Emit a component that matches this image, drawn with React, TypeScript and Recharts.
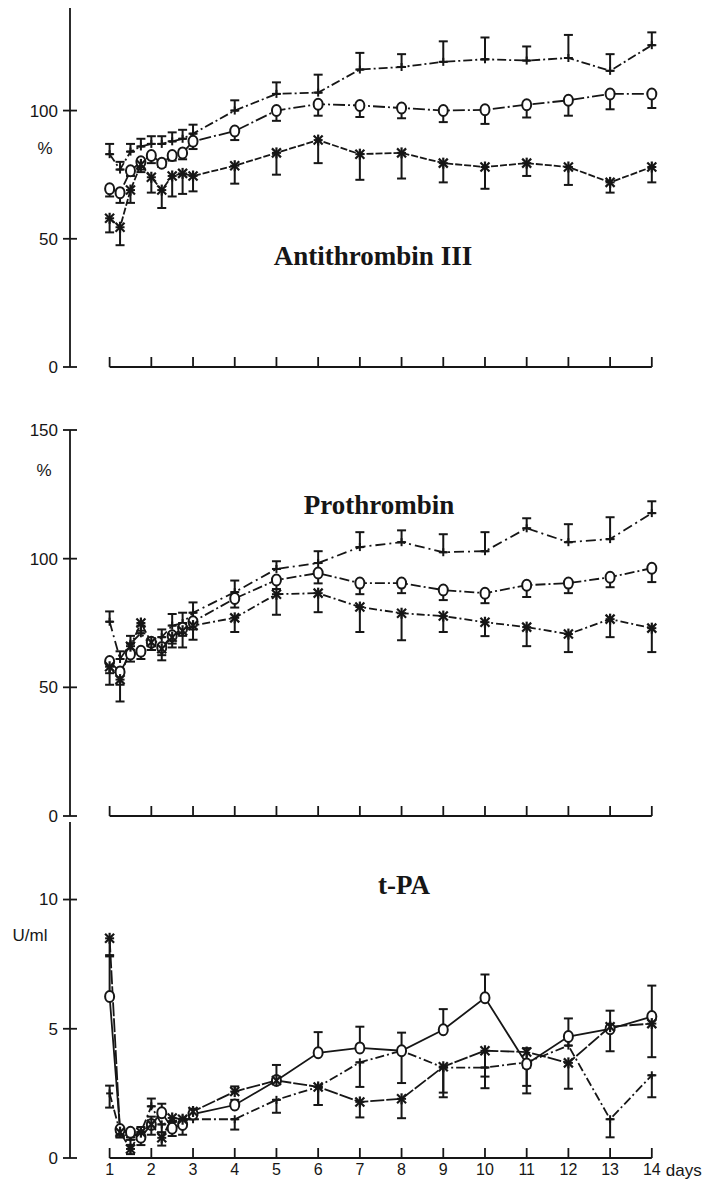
import { ComposedChart, Line, XAxis, YAxis, ErrorBar, ReferenceLine } from "recharts";

const INK = "#161616";

const DAYS = [1, 1.25, 1.5, 1.75, 2, 2.25, 2.5, 2.75, 3, 4, 5, 6, 7, 8, 9, 10, 11, 12, 13, 14];
const TICK_DAYS = [1, 2, 3, 4, 5, 6, 7, 8, 9, 10, 11, 12, 13, 14];

// Antithrombin III (%)
const atPlus = [83, 77, 84, 86, 87, 87, 88, 89, 91, 100, 106.5, 107, 116, 117, 119, 120, 119.5, 120.5, 115.5, 125.5];
const atPlusUp = [4, 3, 3, 3, 3, 3, 3.5, 3.5, 3.5, 4, 4.5, 7, 6.5, 5, 8, 8.5, 5.5, 9, 6.5, 5];
const atCirc = [69.5, 68, 76.5, 80, 82.5, 79.5, 82.5, 83.5, 88, 92, 100, 102.5, 102, 101, 100, 100.3, 102.3, 104, 106.5, 106.5];
const atCircDown = [3, 4, 2, 3, 3, 1.5, 2, 2.5, 3, 3.5, 4, 4.5, 4.5, 4, 4.5, 5.5, 5, 6, 6, 5.5];
const atStar = [58, 54.5, 69, 79, 74, 69, 74.5, 75.5, 74.5, 78.5, 83.5, 88.5, 83, 83.5, 79.5, 78, 79.5, 78, 72, 78];
const atStarDown = [5.5, 7, 5, 3, 6, 7, 8, 8, 6, 7, 8.5, 9, 10, 10, 7.5, 8.5, 5, 7, 4, 6];

// Prothrombin (%)
const ptPlus = [75.5, 61, 67, 71, 66, 69.5, 74, 75, 79, 87, 96, 98.3, 104.5, 106.4, 102.5, 102.9, 111.8, 106.4, 107.6, 117.7];
const ptPlusUp = [4, 3, 3, 3, 3, 3, 4.5, 4, 4, 4.5, 3, 4.6, 5.8, 4.6, 7, 7.4, 3.9, 7, 8.5, 4.6];
const ptCirc = [60, 56, 63, 64, 67.5, 65.5, 70, 73, 75.5, 84.5, 91.7, 94.4, 90.5, 90.5, 87.8, 86.6, 89.7, 90.5, 92.8, 96.3];
const ptCircDown = [4.5, 5, 3, 3, 3, 3, 3, 3, 3, 3.5, 3.5, 4, 4.3, 3.9, 3.9, 3.9, 4.6, 3.9, 3.9, 5.4];
const ptStar = [58, 53, 66, 75, 67.5, 65, 69.5, 72, 74, 77, 86.2, 86.6, 81.2, 78.8, 77.7, 75.3, 73.4, 70.7, 76.5, 73];
const ptStarDown = [7, 8.5, 4, 3, 3, 4.5, 4, 6.5, 5.5, 5.5, 8, 7.4, 9.7, 10.5, 6.2, 5.4, 7.4, 7, 7, 9.3];

// t-PA (U/ml)
const tpPlus = [2.5, 1.0, 0.8, 1.0, 2.0, 1.3, 1.4, 1.5, 1.5, 1.5, 2.25, 2.75, 3.7, 4.15, 3.5, 3.5, 3.7, 4.35, 1.5, 3.2];
const tpPlusDown = [0.55, 0.2, 0.3, 0, 0, 0.3, 0.3, 0.3, 0, 0.4, 0.5, 0.7, 0.95, 0, 1.15, 0.8, 0.2, 0, 0.7, 0.85];
const tpPlusUp = [0.3, 0, 0, 0.2, 0.3, 0, 0, 0, 0.2, 0, 0, 0, 0, 0, 0, 0, 0, 0.3, 0, 0];
const tpCirc = [6.25, 1.1, 1.0, 0.8, 1.3, 1.75, 1.15, 1.3, 1.7, 2.05, 3.0, 4.07, 4.26, 4.15, 4.96, 6.2, 3.64, 4.7, 5.0, 5.47];
const tpCircDown = [0, 0.2, 0.3, 0.3, 0, 0, 0.3, 0.4, 0, 0, 0, 0, 0, 1.25, 0, 0, 0.85, 0, 0, 0];
const tpCircUp = [1.6, 0, 0, 0, 0.3, 0.35, 0, 0, 0.2, 0.2, 0.6, 0.8, 0.82, 0.7, 0.8, 0.9, 0, 0.7, 0.7, 1.2];
const tpStar = [8.5, 1.0, 0.35, 1.0, 1.3, 0.78, 1.55, 1.5, 1.8, 2.57, 3.0, 2.75, 2.17, 2.29, 3.53, 4.15, 4.1, 3.68, 5.08, 5.2];
const tpStarDown = [0.7, 0.2, 0.2, 0.2, 0.4, 0.3, 0.3, 0.3, 0.2, 0, 0, 0.7, 0.6, 0.75, 1.0, 1.0, 1.6, 1.0, 0.95, 1.3];
const tpStarUp = [0, 0, 0, 0, 0, 0, 0, 0, 0, 0.2, 0, 0, 0, 0, 0, 0, 0.15, 0, 0, 0];

function buildRows(
  plus: number[], plusDown: number[] | null, plusUp: number[] | null,
  circ: number[], circDown: number[] | null, circUp: number[] | null,
  star: number[], starDown: number[] | null, starUp: number[] | null
) {
  return DAYS.map((day, i) => ({
    day,
    plus: plus[i],
    plusErr: [plusDown ? plusDown[i] : 0, plusUp ? plusUp[i] : 0],
    circ: circ[i],
    circErr: [circDown ? circDown[i] : 0, circUp ? circUp[i] : 0],
    star: star[i],
    starErr: [starDown ? starDown[i] : 0, starUp ? starUp[i] : 0],
  }));
}

const atRows = buildRows(atPlus, null, atPlusUp, atCirc, atCircDown, null, atStar, atStarDown, null);
const ptRows = buildRows(ptPlus, null, ptPlusUp, ptCirc, ptCircDown, null, ptStar, ptStarDown, null);
const tpRows = buildRows(tpPlus, tpPlusDown, tpPlusUp, tpCirc, tpCircDown, tpCircUp, tpStar, tpStarDown, tpStarUp);

const plusDot = (p: any) => {
  const { cx, cy, index } = p;
  if (cx == null || cy == null) return <g key={`p${index}`} />;
  return (
    <g key={`p${index}`} stroke={INK} strokeWidth={2}>
      <line x1={cx - 3.5} x2={cx + 3.5} y1={cy} y2={cy} />
      <line x1={cx} x2={cx} y1={cy - 4} y2={cy + 4} />
    </g>
  );
};

const circDot = (p: any) => {
  const { cx, cy, index } = p;
  if (cx == null || cy == null) return <g key={`c${index}`} />;
  return <ellipse key={`c${index}`} cx={cx} cy={cy} rx={4.5} ry={5.5} fill="#fff" stroke={INK} strokeWidth={2} />;
};

const starDot = (p: any) => {
  const { cx, cy, index } = p;
  if (cx == null || cy == null) return <g key={`s${index}`} />;
  return (
    <g key={`s${index}`} stroke={INK} strokeWidth={2.2}>
      <line x1={cx - 4.5} x2={cx + 4.5} y1={cy - 4.5} y2={cy + 4.5} />
      <line x1={cx - 4.5} x2={cx + 4.5} y1={cy + 4.5} y2={cy - 4.5} />
      <line x1={cx} x2={cx} y1={cy - 5.5} y2={cy + 5.5} />
    </g>
  );
};

function DayTick(props: any) {
  const { x, y, payload, labels } = props;
  return (
    <g>
      <line x1={x} x2={x} y1={y} y2={y - 10} stroke={INK} strokeWidth={1.8} />
      {labels && (
        <text x={x} y={y + 6} dy="0.71em" textAnchor="middle" fontSize={16} fill={INK} fontFamily="Liberation Sans, Arial">
          {payload.value}
        </text>
      )}
      {labels && payload.value === 14 && (
        <text x={x + 14} y={y + 6} dy="0.71em" textAnchor="start" fontSize={17} fill={INK} fontFamily="Liberation Sans, Arial">
          days
        </text>
      )}
    </g>
  );
}

function ValueTick(props: any) {
  const { x, y, payload } = props;
  return (
    <g>
      <line x1={x - 7} x2={x + 7} y1={y} y2={y} stroke={INK} strokeWidth={1.8} />
      <text x={x - 12} y={y} dy="0.35em" textAnchor="end" fontSize={17} fill={INK} fontFamily="Liberation Sans, Arial">
        {payload.value}
      </text>
    </g>
  );
}

interface PanelProps {
  rows: any[];
  top: number;
  height: number;
  marginTop: number;
  marginBottom: number;
  yMax: number;
  yTicks: number[];
  labels: boolean;
  dashes: [string, string, string];
}

function Panel({ rows, top, height, marginTop, marginBottom, yMax, yTicks, labels, dashes }: PanelProps) {
  return (
    <div style={{ position: "absolute", left: 0, top, width: 712, height }}>
      <ComposedChart
        width={712}
        height={height}
        data={rows}
        margin={{ top: marginTop, right: 31, bottom: marginBottom, left: 0 }}
      >
        <XAxis
          dataKey="day"
          type="number"
          domain={[0.05, 14.7]}
          ticks={TICK_DAYS}
          interval={0}
          allowDataOverflow
          axisLine={false}
          tickLine={false}
          tickSize={0}
          tickMargin={0}
          height={labels ? 30 : 1}
          tick={<DayTick labels={labels} />}
        />
        <YAxis
          type="number"
          domain={[0, yMax]}
          ticks={yTicks}
          interval={0}
          width={70}
          allowDataOverflow
          axisLine={{ stroke: INK, strokeWidth: 1.8 }}
          tickLine={false}
          tickSize={0}
          tickMargin={0}
          tick={<ValueTick />}
        />
        <ReferenceLine
          segment={[{ x: 1, y: 0 }, { x: 14, y: 0 }]}
          stroke={INK}
          strokeWidth={1.8}
        />
        <Line
          dataKey="plus"
          type="linear"
          stroke={INK}
          strokeWidth={1.8}
          strokeDasharray={dashes[0]}
          dot={plusDot}
          activeDot={false}
          isAnimationActive={false}
        >
          <ErrorBar dataKey="plusErr" direction="y" width={4.5} stroke={INK} strokeWidth={2} isAnimationActive={false} />
        </Line>
        <Line
          dataKey="circ"
          type="linear"
          stroke={INK}
          strokeWidth={1.8}
          strokeDasharray={dashes[1]}
          dot={circDot}
          activeDot={false}
          isAnimationActive={false}
        >
          <ErrorBar dataKey="circErr" direction="y" width={4.5} stroke={INK} strokeWidth={2} isAnimationActive={false} />
        </Line>
        <Line
          dataKey="star"
          type="linear"
          stroke={INK}
          strokeWidth={1.8}
          strokeDasharray={dashes[2]}
          dot={starDot}
          activeDot={false}
          isAnimationActive={false}
        >
          <ErrorBar dataKey="starErr" direction="y" width={4.5} stroke={INK} strokeWidth={2} isAnimationActive={false} />
        </Line>
      </ComposedChart>
    </div>
  );
}

const titleStyle: React.CSSProperties = {
  position: "absolute",
  transform: "translate(-50%, -50%)",
  fontFamily: "Liberation Serif, Times New Roman, serif",
  fontWeight: "bold",
  fontSize: 27,
  lineHeight: 1,
  color: INK,
  whiteSpace: "nowrap",
};

const unitStyle: React.CSSProperties = {
  position: "absolute",
  transform: "translate(-50%, -50%)",
  fontFamily: "Liberation Sans, Arial, sans-serif",
  fontSize: 17,
  lineHeight: 1,
  color: INK,
  whiteSpace: "nowrap",
};

export default function App() {
  return (
    <div style={{ position: "fixed", left: 0, top: 0, width: 712, height: 1190, background: "#fff", overflow: "hidden" }}>
      <Panel rows={atRows} top={0} height={400} marginTop={8} marginBottom={32} yMax={140} yTicks={[0, 50, 100]} labels={false} dashes={["9 3 2 3", "12 3 2 3", "7 2"]} />
      <Panel rows={ptRows} top={420} height={420} marginTop={10} marginBottom={23} yMax={150} yTicks={[0, 50, 100, 150]} labels={false} dashes={["10 4 2 4", "10 3 2 3", "8 3 2 3"]} />
      <Panel rows={tpRows} top={810} height={380} marginTop={12} marginBottom={2} yMax={13} yTicks={[0, 5, 10]} labels={true} dashes={["9 3 2 3", "0", "14 2"]} />
      <div style={{ ...titleStyle, left: 373, top: 256 }}>Antithrombin III</div>
      <div style={{ ...titleStyle, left: 379, top: 505 }}>Prothrombin</div>
      <div style={{ ...titleStyle, left: 404, top: 885 }}>t-PA</div>
      <div style={{ ...unitStyle, left: 45, top: 148 }}>%</div>
      <div style={{ ...unitStyle, left: 44, top: 470 }}>%</div>
      <div style={{ ...unitStyle, left: 30, top: 935 }}>U/ml</div>
    </div>
  );
}
